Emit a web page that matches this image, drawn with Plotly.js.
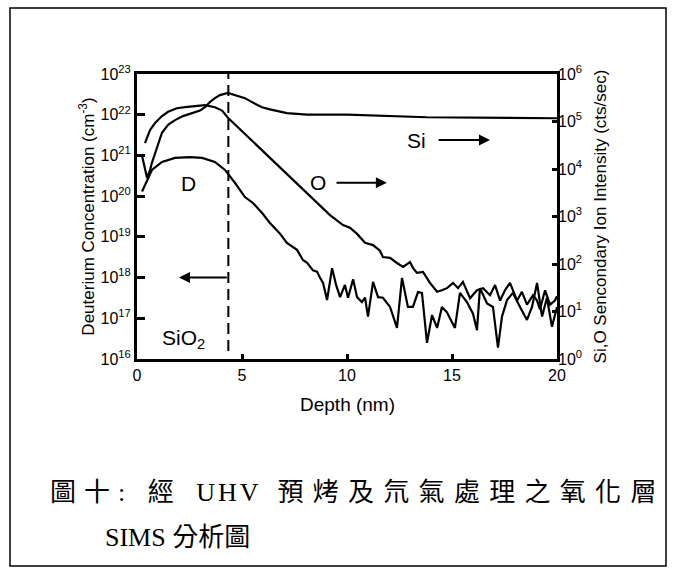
<!DOCTYPE html>
<html>
<head>
<meta charset="utf-8">
<script src="https://cdn.plot.ly/plotly-3.0.1.min.js"></script>
<style>
  html, body { margin: 0; padding: 0; background: #ffffff; }
  #chart { width: 674px; height: 575px; }
</style>
</head>
<body>
<div id="chart"></div>
<script>
// Deuterium profile (left axis, cm^-3)
const dDepth = [0.24, 0.71, 1.19, 1.81, 2.52, 3.10, 3.71, 4.19, 4.67, 5.14, 5.52, 5.95, 6.33, 6.81, 7.14, 7.38, 7.62, 7.90, 8.10, 8.38, 8.57, 8.71, 8.86, 9.05, 9.29, 9.48, 9.67, 9.90, 10.05, 10.29, 10.48, 10.71, 10.86, 11.00, 11.24, 11.48, 11.71, 12.05, 12.38, 12.62, 12.90, 13.14, 13.38, 13.57, 13.81, 14.05, 14.29, 14.52, 14.76, 15.14, 15.38, 15.71, 16.00, 16.19, 16.33, 16.67, 16.95, 17.19, 17.38, 17.62, 17.90, 18.24, 18.57, 18.81, 19.05, 19.29, 19.52, 19.76, 20.00];
const dConc = [1.3e20, 4.4e20, 6.9e20, 8.7e20, 9.1e20, 8.7e20, 6.9e20, 4.4e20, 2.1e20, 9.5e19, 6.8e19, 3.9e19, 2.2e19, 1.2e19, 7.1e18, 5.9e18, 4.8e18, 2.7e18, 2.3e18, 1.5e18, 1.4e18, 1.0e18, 7.4e17, 2.8e17, 1.7e18, 6.6e17, 3.3e17, 6.6e17, 3.2e17, 9.1e17, 3.3e17, 2.5e17, 3.2e17, 1.1e17, 7.8e17, 3.3e17, 3.2e17, 1.9e17, 5.8e16, 9.8e17, 1.9e17, 1.9e17, 4.4e17, 4.2e17, 2.5e16, 1.2e17, 5.8e16, 1.9e17, 1.4e17, 5.8e16, 4.2e17, 2.5e17, 1.3e17, 5.1e16, 5.5e17, 2.3e17, 1.9e17, 1.9e16, 1.1e17, 2.8e17, 4.2e17, 1.9e17, 9.1e16, 1.9e17, 7.4e17, 1.1e17, 3.2e17, 6.2e16, 1.9e17];

// Oxygen secondary ion intensity (right axis, cts/sec)
const oDepth = [0.38, 0.62, 0.86, 1.19, 1.48, 1.90, 2.29, 2.76, 3.24, 3.71, 4.05, 4.33, 4.90, 5.52, 6.10, 6.81, 7.52, 8.24, 8.71, 9.19, 9.81, 10.14, 10.48, 10.86, 11.24, 11.57, 11.71, 12.05, 12.38, 12.67, 13.00, 13.14, 13.33, 13.62, 13.95, 14.29, 14.52, 14.76, 15.05, 15.29, 15.52, 15.86, 16.19, 16.48, 16.81, 17.05, 17.29, 17.52, 17.76, 18.10, 18.33, 18.57, 18.86, 19.05, 19.19, 19.43, 19.67, 19.90, 20.00];
const oCounts = [3.5e4, 6.6e4, 9.3e4, 1.3e5, 1.6e5, 1.9e5, 2.0e5, 2.1e5, 2.2e5, 2.0e5, 1.7e5, 1.2e5, 6.9e4, 3.7e4, 2.1e4, 1.05e4, 5.4e3, 2.7e3, 1.7e3, 1.07e3, 660, 580, 430, 280, 250, 190, 140, 135, 105, 87, 110, 83, 65, 68, 40, 26, 28, 31, 40, 31, 42, 19, 28, 31, 22, 36, 17, 28, 40, 17, 26, 14, 22, 17, 11, 28, 14, 17, 21];

// Silicon secondary ion intensity (right axis, cts/sec)
const siDepth = [0.24, 0.38, 0.48, 0.62, 0.71, 0.95, 1.19, 1.48, 1.81, 2.19, 2.62, 3.00, 3.24, 3.48, 3.71, 3.95, 4.33, 4.67, 5.14, 5.52, 5.95, 6.33, 7.14, 8.10, 10.0, 13.8, 20.0];
const siCounts = [1.9e4, 1.05e4, 6.5e3, 9.5e3, 1.35e4, 2.8e4, 5.8e4, 8.5e4, 1.07e5, 1.3e5, 1.5e5, 1.7e5, 2.0e5, 2.6e5, 3.1e5, 3.6e5, 4.0e5, 3.6e5, 3.1e5, 2.5e5, 2.0e5, 1.8e5, 1.5e5, 1.4e5, 1.4e5, 1.23e5, 1.17e5];

// Axis ticks
const depthTicks = [0, 5, 10, 15, 20];
const concExponents = [16, 17, 18, 19, 20, 21, 22, 23];
const countExponents = [0, 1, 2, 3, 4, 5, 6];

// Interface position and label text
const interfaceDepth = 4.35;
const arrowLeftTip = 2.0;
const depthTitle = 'Depth (nm)';
const captionHead = '圖十: 經 ';
const captionTech = 'UHV';
const captionTail = ' 預烤及氘氣處理之氧化層';
const captionLine2 = 'SIMS 分析圖';

const W = 674, H = 575;
const M = { l: 137, r: 117, t: 74, b: 216 };
const PW = W - M.l - M.r, PH = H - M.t - M.b;
// pixel -> paper coordinate helpers for decorations outside the plot area
const fx = px => (px - M.l) / PW;
const fy = py => (H - M.b - py) / PH;

const sans = 'Liberation Sans, Arial, sans-serif';
const serif = 'Liberation Serif, "Noto Sans CJK TC", serif';
const lineStyle = { color: '#000', width: 2.2 };

const traces = [
  { x: dDepth, y: dConc, type: 'scatter', mode: 'lines', line: lineStyle, yaxis: 'y', hoverinfo: 'skip' },
  { x: oDepth, y: oCounts, type: 'scatter', mode: 'lines', line: lineStyle, yaxis: 'y2', hoverinfo: 'skip' },
  { x: siDepth, y: siCounts, type: 'scatter', mode: 'lines', line: lineStyle, yaxis: 'y2', hoverinfo: 'skip' }
];

const arrowCommon = { text: '', showarrow: true, arrowhead: 2, arrowsize: 1.1, arrowwidth: 2, arrowcolor: '#000', standoff: 0, startstandoff: 0 };

const layout = {
  width: W, height: H,
  margin: M,
  paper_bgcolor: '#fff', plot_bgcolor: '#fff',
  showlegend: false,
  font: { family: sans, color: '#000' },
  xaxis: {
    range: [0, 20], tickvals: depthTicks, ticktext: depthTicks.map(String),
    ticks: 'inside', ticklen: 5, tickwidth: 3, tickcolor: '#000',
    showline: true, linewidth: 3, linecolor: '#000', mirror: true,
    showgrid: false, zeroline: false,
    tickfont: { size: 16, family: sans }
  },
  yaxis: {
    type: 'log', range: [16, 23],
    tickvals: concExponents.map(e => Math.pow(10, e)),
    ticktext: concExponents.map(e => '10<sup>' + e + '</sup>'),
    ticks: 'inside', ticklen: 8, tickwidth: 3, tickcolor: '#000',
    showline: true, linewidth: 3, linecolor: '#000', mirror: true,
    showgrid: false, zeroline: false,
    tickfont: { size: 16, family: sans },
    title: { text: 'Deuterium Concentration (cm<sup>-3</sup>)', font: { size: 17, family: sans }, standoff: 2 }
  },
  yaxis2: {
    type: 'log', range: [0, 6], overlaying: 'y', side: 'right',
    tickvals: countExponents.map(e => Math.pow(10, e)),
    ticktext: countExponents.map(e => '10<sup>' + e + '</sup>'),
    ticks: 'inside', ticklen: 5, tickwidth: 3, tickcolor: '#000',
    showline: false, showgrid: false, zeroline: false,
    tickfont: { size: 16, family: sans },
    title: { text: 'Si,O Sencondary Ion Intensity (cts/sec)', font: { size: 17, family: sans }, standoff: 13 }
  },
  shapes: [
    // Si/SiO2 interface
    { type: 'line', xref: 'x', yref: 'paper', x0: interfaceDepth, x1: interfaceDepth, y0: fy(351), y1: 1,
      line: { color: '#000', width: 2, dash: '11px,6px' } },
    // page frame around figure and caption
    { type: 'rect', xref: 'paper', yref: 'paper', x0: fx(10), x1: fx(666), y0: fy(566), y1: fy(8),
      line: { color: '#000', width: 1.5 }, fillcolor: 'rgba(0,0,0,0)', layer: 'below' }
  ],
  annotations: [
    // depth axis title
    { xref: 'paper', yref: 'paper', x: 0.5, y: fy(404), xanchor: 'center', yanchor: 'middle', showarrow: false,
      text: depthTitle, font: { size: 19, family: sans } },
    // D profile arrow pointing to the left axis
    Object.assign({ x: arrowLeftTip, y: 18, xref: 'x', yref: 'y', ax: interfaceDepth, ay: 18, axref: 'x', ayref: 'y' }, arrowCommon),
    { x: 2.43, y: 20.32, xref: 'x', yref: 'y', text: 'D', showarrow: false, font: { size: 21, family: sans } },
    { x: 2.2, y: 16.5, xref: 'x', yref: 'y', text: 'SiO<sub>2</sub>', showarrow: false, font: { size: 21, family: sans } },
    { x: 8.62, y: 3.71, xref: 'x', yref: 'y2', text: 'O', showarrow: false, font: { size: 21, family: sans } },
    Object.assign({ x: 11.9, y: 3.71, xref: 'x', yref: 'y2', ax: 9.43, ay: 3.71, axref: 'x', ayref: 'y2' }, arrowCommon),
    { x: 13.3, y: 4.61, xref: 'x', yref: 'y2', text: 'Si', showarrow: false, font: { size: 21, family: sans } },
    Object.assign({ x: 16.81, y: 4.61, xref: 'x', yref: 'y2', ax: 14.29, ay: 4.61, axref: 'x', ayref: 'y2' }, arrowCommon),
    // caption
    { xref: 'paper', yref: 'paper', x: fx(48), y: fy(492), xanchor: 'left', yanchor: 'middle', showarrow: false,
      text: '<span style="letter-spacing:8px">' + captionHead + '</span>' +
            '<span style="letter-spacing:3px">' + captionTech + '</span>' +
            '<span style="letter-spacing:9.3px">' + captionTail + '</span>',
      font: { size: 26, family: serif, color: '#000' } },
    { xref: 'paper', yref: 'paper', x: fx(103), y: fy(537), xanchor: 'left', yanchor: 'middle', showarrow: false,
      text: captionLine2,
      font: { size: 26, family: serif, color: '#000' } }
  ]
};

Plotly.newPlot('chart', traces, layout, { staticPlot: true, displayModeBar: false });
</script>
</body>
</html>
